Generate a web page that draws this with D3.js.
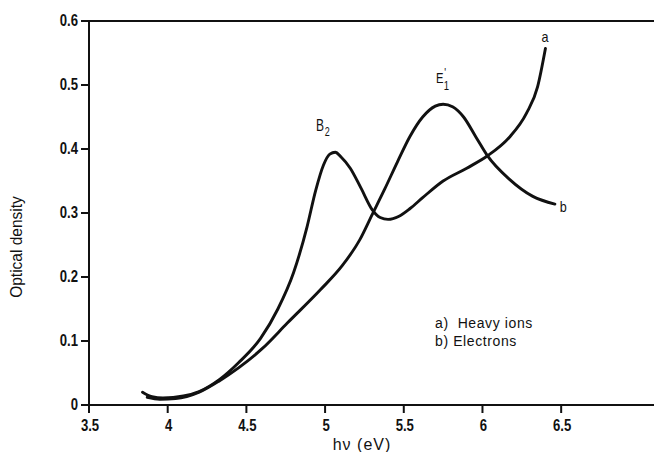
<!DOCTYPE html>
<html>
<head>
<meta charset="utf-8">
<script src="https://cdn.jsdelivr.net/npm/d3@7"></script>
<style>
  html, body { margin: 0; padding: 0; background: #ffffff; }
  svg { display: block; }
  text { font-family: "Liberation Sans", Arial, sans-serif; fill: #111; }
  .tick-label { font-weight: bold; font-size: 16px; }
</style>
</head>
<body>
<svg id="chart" width="654" height="452"></svg>
<script>
// Photon energy (eV) vs optical density for two irradiation types
const xTicks = [3.5, 4, 4.5, 5, 5.5, 6, 6.5];
const xTickLabels = ["3.5", "4", "4.5", "5", "5.5", "6", "6.5"];
const yTicks = [0, 0.1, 0.2, 0.3, 0.4, 0.5, 0.6];
const yTickLabels = ["0", "0.1", "0.2", "0.3", "0.4", "0.5", "0.6"];

// a) Heavy ions — B2 band near 5.06 eV
const heavyIonsEnergy  = [3.84, 3.90, 3.97, 4.10, 4.20, 4.33, 4.45, 4.59, 4.70, 4.80, 4.885, 4.94, 4.99, 5.03, 5.065, 5.10, 5.16, 5.23, 5.30, 5.35, 5.40, 5.47, 5.54, 5.62, 5.75, 5.90, 6.03, 6.17, 6.28, 6.35, 6.40];
const heavyIonsDensity = [0.020, 0.013, 0.011, 0.014, 0.021, 0.040, 0.066, 0.104, 0.150, 0.207, 0.278, 0.335, 0.375, 0.392, 0.395, 0.388, 0.370, 0.338, 0.305, 0.293, 0.290, 0.295, 0.307, 0.324, 0.350, 0.370, 0.389, 0.418, 0.456, 0.497, 0.557];

// b) Electrons — E'1 band near 5.75 eV
const electronsEnergy  = [3.87, 3.95, 4.05, 4.20, 4.33, 4.45, 4.60, 4.76, 4.97, 5.11, 5.22, 5.30, 5.38, 5.46, 5.54, 5.62, 5.70, 5.75, 5.81, 5.88, 5.96, 6.03, 6.17, 6.32, 6.46];
const electronsDensity = [0.012, 0.009, 0.010, 0.020, 0.038, 0.058, 0.088, 0.128, 0.180, 0.218, 0.258, 0.298, 0.338, 0.380, 0.420, 0.450, 0.467, 0.470, 0.466, 0.450, 0.418, 0.390, 0.353, 0.326, 0.314];

const legendLines = ["a)  Heavy ions", "b) Electrons"];

const svg = d3.select("#chart");
const x = d3.scaleLinear().domain([3.5, 7.1]).range([89, 655.6]);
const y = d3.scaleLinear().domain([0, 0.6]).range([405, 21]);

// condensed text: horizontal squeeze around the anchor point
function label(parent, px, py, sx, rot) {
  const g = parent.append("g")
    .attr("transform", `translate(${px},${py})${rot ? ` rotate(${rot})` : ""} scale(${sx},1)`);
  return g.append("text").attr("x", 0).attr("y", 0);
}

// frame: left axis, bottom axis, top rule
const axisColor = "#111";
svg.append("line").attr("x1", 88).attr("x2", 654).attr("y1", y(0.6)).attr("y2", y(0.6))
  .attr("stroke", axisColor).attr("stroke-width", 2);
svg.append("line").attr("x1", x(3.5)).attr("x2", x(3.5)).attr("y1", y(0.6) - 1).attr("y2", y(0) + 1)
  .attr("stroke", axisColor).attr("stroke-width", 2);
svg.append("line").attr("x1", 88).attr("x2", 654).attr("y1", y(0)).attr("y2", y(0))
  .attr("stroke", axisColor).attr("stroke-width", 2);

// y ticks (outward)
yTicks.forEach((v, i) => {
  svg.append("line").attr("x1", x(3.5) - 8).attr("x2", x(3.5)).attr("y1", y(v)).attr("y2", y(v))
    .attr("stroke", axisColor).attr("stroke-width", 2);
  label(svg, x(3.5) - 11, y(v) + 5, 0.82).attr("class", "tick-label")
    .attr("text-anchor", "end").text(yTickLabels[i]);
});

// x ticks (downward)
xTicks.forEach((v, i) => {
  svg.append("line").attr("x1", x(v)).attr("x2", x(v)).attr("y1", y(0)).attr("y2", y(0) + 8)
    .attr("stroke", axisColor).attr("stroke-width", 2);
  label(svg, x(v) + 1, y(0) + 26, 0.82).attr("class", "tick-label")
    .attr("text-anchor", "middle").text(xTickLabels[i]);
});

// axis titles
label(svg, 22, 247, 0.97, -90).attr("font-size", 16)
  .attr("text-anchor", "middle").text("Optical density");
label(svg, 362, 450, 1).attr("font-size", 16).attr("letter-spacing", 1)
  .attr("text-anchor", "middle").text("hν (eV)");

// spectra
const line = d3.line().x(d => x(d[0])).y(d => y(d[1])).curve(d3.curveMonotoneX);
const heavy = heavyIonsEnergy.map((e, i) => [e, heavyIonsDensity[i]]);
const elec = electronsEnergy.map((e, i) => [e, electronsDensity[i]]);
[heavy, elec].forEach(series => {
  svg.append("path").datum(series).attr("d", line)
    .attr("fill", "none").attr("stroke", "#111").attr("stroke-width", 2.9)
    .attr("stroke-linecap", "round").attr("stroke-linejoin", "round");
});

// band labels
const b2 = label(svg, 316, 131, 0.75).attr("font-size", 16);
b2.append("tspan").text("B");
b2.append("tspan").attr("font-size", 12).attr("dx", 1).attr("dy", 5).text("2");

const e1 = label(svg, 436, 83, 0.8).attr("font-size", 14);
e1.append("tspan").text("E");
e1.append("tspan").attr("font-size", 12).attr("dx", 1).attr("dy", -6).text("'");
e1.append("tspan").attr("font-size", 12).attr("dx", -3).attr("dy", 13).text("1");

// curve end labels
const aEnd = heavy[heavy.length - 1];
const bEnd = elec[elec.length - 1];
label(svg, x(aEnd[0]) - 4, y(aEnd[1]) - 7, 0.9).attr("font-size", 14).text("a");
label(svg, x(bEnd[0]) + 5, y(bEnd[1]) + 8, 0.9).attr("font-size", 14).text("b");

// legend
legendLines.forEach((t, i) => {
  label(svg, 435, 328 + i * 18, 1).attr("font-size", 14)
    .attr("letter-spacing", 0.6).style("white-space", "pre").text(t);
});
</script>
</body>
</html>
